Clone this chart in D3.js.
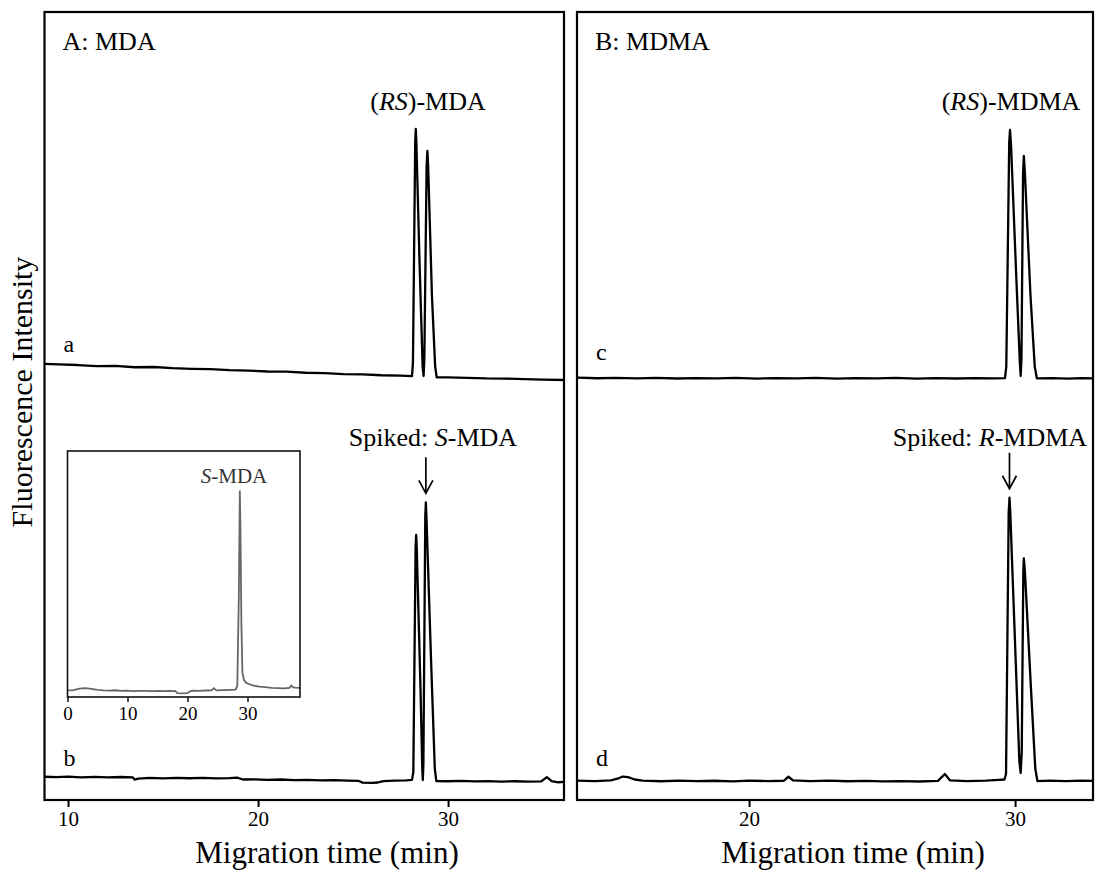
<!DOCTYPE html>
<html>
<head>
<meta charset="utf-8">
<script src="https://cdn.jsdelivr.net/npm/d3@7"></script>
<style>
  body { margin: 0; background: #fff; }
  text { font-family: "Liberation Serif", "Times New Roman", serif; fill: #000; }
</style>
</head>
<body>
<svg id="chart" width="1095" height="873"></svg>
<script>
// ---- data (migration time in min, fluorescence in arbitrary units 0-100) ----
const panelTitles = ["A: MDA", "B: MDMA"];
const xDomainA = [8.76, 36.1];
const xDomainB = [13.53, 32.93];
const xTicksA = [10, 20, 30];
const xTicksB = [20, 30];
const traceLetters = ["a", "b", "c", "d"];

// trace a: (RS)-MDA
const traceA = [[8.76,55.35],[9.5,55.28],[10.5,55.2],[11.5,55.05],[12.5,55.08],[13.5,54.92],[14.5,54.95],[15.5,54.8],
  [16.5,54.72],[17.5,54.68],[18.5,54.55],[19.5,54.5],[20.5,54.38],[21.5,54.35],[22.5,54.22],[23.5,54.18],[24.5,54.05],
  [25.5,54.02],[26.5,53.9],[27.5,53.85],[28.1,53.8],[28.15,55.5],[28.27,83.5],[28.3,85.15],[28.33,83.5],[28.5,68],
  [28.66,55],[28.71,53.81],[28.75,56],[28.87,80.5],[28.91,82.36],[28.95,80.5],[29.15,64],[29.32,55],[29.4,53.65],
  [30,53.62],[31,53.58],[32,53.5],[33,53.48],[34,53.4],[35,53.35],[36.1,53.3]];
// trace b: spiked with S-MDA
const traceB = [[8.76,2.95],[9.4,2.9],[10,2.96],[10.7,2.88],[11.4,2.93],[12.1,2.87],[12.8,2.92],[13.4,2.88],[13.5,2.6],
  [13.7,2.72],[14.3,2.8],[15,2.75],[15.7,2.82],[16.4,2.76],[17.1,2.8],[17.8,2.74],[18.5,2.78],[18.9,2.85],[19.2,2.6],
  [19.8,2.62],[20.5,2.56],[21.2,2.6],[21.9,2.52],[22.6,2.56],[23.3,2.48],[24,2.52],[24.7,2.45],[25.3,2.42],[25.5,2.2],
  [26,2.18],[26.3,2.22],[26.6,2.4],[27.2,2.46],[27.8,2.5],[28.1,2.55],[28.17,3.5],[28.29,32],[28.32,33.63],[28.35,32],
  [28.55,14],[28.64,4],[28.67,2.54],[28.7,4.5],[28.8,36],[28.83,37.78],[28.86,36],[29.1,18],[29.3,4],[29.38,2.4],
  [30,2.38],[30.7,2.42],[31.4,2.36],[32.1,2.4],[32.8,2.34],[33.5,2.38],[34.2,2.32],[34.9,2.36],[35.2,2.9],[35.45,2.4],
  [35.8,2.25],[36.1,2.3]];
// trace c: (RS)-MDMA
const traceC = [[13.53,53.6],[14.3,53.52],[15,53.58],[15.8,53.5],[16.5,53.56],[17.3,53.49],[18,53.55],[18.8,53.5],
  [19.5,53.57],[20.3,53.48],[21,53.54],[21.8,53.5],[22.5,53.56],[23.3,53.47],[24,53.53],[24.8,53.5],[25.5,53.56],
  [26.3,53.48],[27,53.54],[27.8,53.49],[28.5,53.55],[29.2,53.5],[29.62,53.55],[29.67,55],[29.78,83.5],[29.81,85.03],
  [29.85,83],[30.05,66],[30.18,55.5],[30.21,53.81],[30.24,56],[30.3,79.5],[30.33,81.73],[30.37,79.5],[30.58,64],
  [30.74,55],[30.82,53.5],[31.4,53.55],[32,53.48],[32.5,53.53],[32.93,53.5]];
// trace d: spiked with R-MDMA
const traceD = [[13.53,2.45],[14.2,2.4],[14.8,2.48],[15.05,2.7],[15.25,2.98],[15.45,2.9],[15.7,2.6],[16,2.45],
  [16.7,2.38],[17.4,2.46],[18,2.4],[18.7,2.44],[19.4,2.37],[20,2.45],[20.7,2.4],[21.3,2.44],[21.48,2.95],[21.65,2.48],
  [22.3,2.4],[23,2.45],[23.7,2.38],[24.4,2.43],[25,2.36],[25.7,2.4],[26.4,2.35],[27.1,2.42],[27.36,3.3],[27.55,2.5],
  [28.2,2.4],[28.9,2.45],[29.4,2.55],[29.6,2.6],[29.66,3.3],[29.76,36.5],[29.79,38.36],[29.82,36.5],[30.02,18],
  [30.16,5],[30.21,3.43],[30.25,6],[30.31,29],[30.33,30.67],[30.37,29],[30.6,14],[30.76,4],[30.84,2.4],[31.3,2.45],
  [31.9,2.4],[32.5,2.45],[32.93,2.42]];
// inset: S-MDA standard alone
const insetDomain = [0, 38.75];
const insetTicks = [0, 10, 20, 30];
const insetTrace = [[0,2.7],[1,2.8],[2,3.4],[3,3.6],[4,3.3],[5,2.9],[6,2.7],[7,2.6],[8,2.75],[9,2.5],[10,2.6],[11,2.4],
  [12,2.5],[13,2.45],[14,2.4],[15,2.5],[16,2.35],[17,2.45],[18,2.4],[18.3,1.6],[19,1.5],[20,1.6],[20.5,2.4],[21,2.6],
  [22,2.5],[23,2.65],[24,2.7],[24.4,3.6],[24.8,2.7],[26,2.8],[27,2.9],[28,3.0],[28.3,4.5],[28.55,40],[28.72,83.9],
  [28.82,70],[28.98,30],[29.15,10],[29.4,7],[29.7,6],[30,5.5],[31,4.6],[32,4.2],[33,4.0],[34,3.7],[35,3.6],[36,3.5],
  [37,3.7],[37.3,4.6],[37.6,3.9],[38,3.8],[38.75,3.7]];

// peak annotations: label pieces [text, italic]
const peakLabelsTop = [[["(", false], ["RS", true], [")-MDA", false]], [["(", false], ["RS", true], [")-MDMA", false]]];
const spikeLabels = [[["Spiked: ", false], ["S", true], ["-MDA", false]], [["Spiked: ", false], ["R", true], ["-MDMA", false]]];
const spikeTimes = [28.83, 29.79];
const spikeHeights = [37.78, 38.36];
const insetLabel = [["S", true], ["-MDA", false]];

// ---- layout ----
const svg = d3.select("#chart");
const frameTop = 12, frameBottom = 800;

const panels = [
  {title: panelTitles[0], left: 44.5, right: 564, domain: xDomainA, ticks: xTicksA, xTitleX: 327,
   traces: [traceA, traceB], letters: [traceLetters[0], traceLetters[1]], letterY: [352, 766],
   topLabel: peakLabelsTop[0], topLabelX: 428, spike: spikeLabels[0], spikeX: 433,
   spikeT: spikeTimes[0], spikeV: spikeHeights[0]},
  {title: panelTitles[1], left: 577, right: 1093, domain: xDomainB, ticks: xTicksB, xTitleX: 853,
   traces: [traceC, traceD], letters: [traceLetters[2], traceLetters[3]], letterY: [360, 766],
   topLabel: peakLabelsTop[1], topLabelX: 1011, spike: spikeLabels[1], spikeX: 990,
   spikeT: spikeTimes[1], spikeV: spikeHeights[1]}
];

function addRichText(parent, pieces, x, y, size, anchor) {
  const t = parent.append("text").attr("x", x).attr("y", y)
    .attr("text-anchor", anchor).style("font-size", size + "px");
  pieces.forEach(p => t.append("tspan").text(p[0]).style("font-style", p[1] ? "italic" : "normal"));
  return t;
}

function drawArrow(g, x, yTip, len) {
  g.append("line").attr("x1", x).attr("x2", x).attr("y1", yTip - len).attr("y2", yTip)
    .attr("stroke", "#000").attr("stroke-width", 1.7);
  g.append("path").attr("d", `M${x - 7},${yTip - 13} L${x},${yTip} L${x + 7},${yTip - 13}`)
    .attr("fill", "none").attr("stroke", "#000").attr("stroke-width", 1.7);
}

panels.forEach((p, i) => {
  const x = d3.scaleLinear().domain(p.domain).range([p.left, p.right]);
  const y = d3.scaleLinear().domain([0, 100]).range([frameBottom, frameTop]);
  const g = svg.append("g");

  const clipId = "clip" + i;
  svg.append("clipPath").attr("id", clipId).append("rect")
    .attr("x", p.left).attr("y", frameTop).attr("width", p.right - p.left).attr("height", frameBottom - frameTop);

  const line = d3.line().x(d => x(d[0])).y(d => y(d[1]));
  g.selectAll("path.trace").data(p.traces).join("path")
    .attr("class", "trace")
    .attr("clip-path", `url(#${clipId})`)
    .attr("d", line)
    .attr("fill", "none").attr("stroke", "#000").attr("stroke-width", 2.3)
    .attr("stroke-linejoin", "round");

  g.append("rect").attr("x", p.left).attr("y", frameTop)
    .attr("width", p.right - p.left).attr("height", frameBottom - frameTop)
    .attr("fill", "none").attr("stroke", "#000").attr("stroke-width", 2.2);

  const axis = g.append("g").attr("transform", `translate(0,${frameBottom})`)
    .call(d3.axisBottom(x).tickValues(p.ticks).tickSize(7).tickPadding(4).tickFormat(d3.format("d")));
  axis.select(".domain").remove();
  axis.selectAll(".tick line").attr("stroke", "#000").attr("stroke-width", 2);
  axis.selectAll(".tick text").attr("fill", "#000")
    .style("font-size", "21px").style("font-family", "'Liberation Serif', serif");

  g.append("text").attr("x", p.xTitleX).attr("y", 863)
    .attr("text-anchor", "middle").style("font-size", "31px").text("Migration time (min)");

  g.append("text").attr("x", p.left + 18).attr("y", 50).style("font-size", "26px").text(p.title);

  p.letters.forEach((l, j) => {
    g.append("text").attr("x", p.left + 19).attr("y", p.letterY[j]).style("font-size", "24px").text(l);
  });

  addRichText(g, p.topLabel, p.topLabelX, 110, 26, "middle");
  addRichText(g, p.spike, p.spikeX, 446, 26, "middle");
  drawArrow(g, x(p.spikeT), y(p.spikeV) - 9, 36);
});

// ---- inset in panel A ----
const ix = d3.scaleLinear().domain(insetDomain).range([67.5, 300]);
const iy = d3.scaleLinear().domain([0, 100]).range([697, 451]);
const ig = svg.append("g");
ig.append("rect").attr("x", 67.5).attr("y", 451).attr("width", 300 - 67.5).attr("height", 697 - 451)
  .attr("fill", "#fff");
ig.append("path").datum(insetTrace)
  .attr("d", d3.line().x(d => ix(d[0])).y(d => iy(d[1])))
  .attr("fill", "none").attr("stroke", "#666").attr("stroke-width", 1.8);
ig.append("rect").attr("x", 67.5).attr("y", 451).attr("width", 300 - 67.5).attr("height", 697 - 451)
  .attr("fill", "none").attr("stroke", "#111").attr("stroke-width", 1.6);
const iaxis = ig.append("g").attr("transform", "translate(0,697)")
  .call(d3.axisBottom(ix).tickValues(insetTicks).tickSize(5).tickPadding(5).tickFormat(d3.format("d")));
iaxis.select(".domain").remove();
iaxis.selectAll(".tick line").attr("stroke", "#111").attr("stroke-width", 1.5);
iaxis.selectAll(".tick text").attr("fill", "#000")
  .style("font-size", "19px").style("font-family", "'Liberation Serif', serif");
addRichText(ig, insetLabel, 234, 483, 21, "middle").style("fill", "#333");

// ---- y axis title ----
svg.append("text").attr("transform", "translate(32,392) rotate(-90)")
  .attr("text-anchor", "middle").style("font-size", "30px").text("Fluorescence Intensity");
</script>
</body>
</html>
